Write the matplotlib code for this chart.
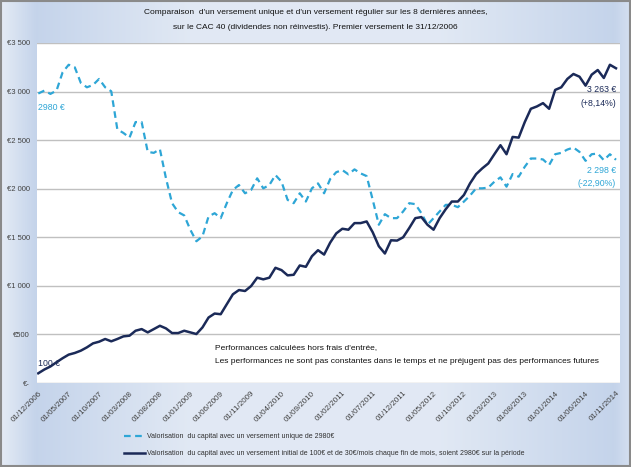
import matplotlib
matplotlib.use("Agg")
import matplotlib.pyplot as plt
import numpy as np

# DATA (monthly, 01/12/2006 -> 01/11/2014)
unique_payment = [
    2980, 3010, 2976, 3010, 3198, 3276, 3250, 3089, 3044, 3068,
    3130, 3044, 3003, 2611, 2574, 2526, 2686, 2686, 2379, 2369,
    2407, 2107, 1851, 1759, 1725, 1578, 1459, 1510, 1714, 1748,
    1697, 1851, 1987, 2038, 1953, 1987, 2107, 2004, 2038, 2141,
    2072, 1885, 1851, 1953, 1868, 2004, 2055, 1953, 2100, 2170,
    2192, 2148, 2199, 2158, 2130, 1885, 1629, 1738, 1697, 1697,
    1766, 1851, 1841, 1748, 1629, 1697, 1766, 1834, 1834, 1810,
    1868, 1930, 2004, 2004, 2011, 2072, 2117, 2021, 2151, 2124,
    2226, 2311, 2311, 2301, 2243, 2355, 2369, 2403, 2424, 2379,
    2287, 2355, 2362, 2294, 2355, 2298,
]
monthly_payment = [
    100, 139, 170, 214, 255, 292, 309, 333, 367, 408,
    425, 453, 429, 453, 480, 487, 538, 555, 521, 555,
    589, 562, 514, 514, 538, 521, 504, 572, 674, 715,
    708, 811, 913, 957, 947, 998, 1084, 1067, 1084, 1186,
    1162, 1108, 1114, 1210, 1196, 1305, 1367, 1322, 1445, 1540,
    1588, 1578, 1646, 1646, 1663, 1551, 1408, 1333, 1469, 1466,
    1500, 1595, 1697, 1708, 1629, 1578, 1697, 1789, 1868, 1868,
    1936, 2055, 2150, 2209, 2260, 2355, 2448, 2355, 2533, 2526,
    2686, 2823, 2847, 2881, 2823, 3017, 3044, 3130, 3181, 3153,
    3061, 3174, 3222, 3140, 3276, 3240,
]
tick_labels = [
    "01/12/2006", "01/05/2007", "01/10/2007", "01/03/2008", "01/08/2008",
    "01/01/2009", "01/06/2009", "01/11/2009", "01/04/2010", "01/09/2010",
    "01/02/2011", "01/07/2011", "01/12/2011", "01/05/2012", "01/10/2012",
    "01/03/2013", "01/08/2013", "01/01/2014", "01/06/2014", "01/11/2014",
]
y_ticks = [0, 500, 1000, 1500, 2000, 2500, 3000, 3500]
y_labels = ["€-", "€500", "€1 000", "€1 500", "€2 000", "€2 500", "€3 000", "€3 500"]

label_unique = "Valorisation  du capital avec un versement unique de 2980€"
label_monthly = ("Valorisation  du capital avec un versement initial de 100€ et de 30€/mois "
                 "chaque fin de mois, soient 2980€ sur la période")

CYAN = "#2ea6d6"
NAVY = "#1b2a58"
plt.rcParams["font.family"] = ["Liberation Sans", "DejaVu Sans"]

fig = plt.figure(figsize=(6.31, 4.67), dpi=100)

# background gradient
bg = fig.add_axes([0, 0, 1, 1], zorder=-10)
xs = np.linspace(0, 1, 300)
h = np.interp(xs, [0, 0.055, 0.3, 0.7, 0.975, 1], [0.15, 1.0, 0.25, 0.25, 1.0, 0.6])
grad = np.tile(h, (50, 1))
light = np.array([0.92, 0.94, 0.97])
blue = np.array([0.77, 0.83, 0.92])
img = light[None, None, :] * (1 - grad[..., None]) + blue[None, None, :] * grad[..., None]
bg.imshow(img, aspect="auto", extent=[0, 1, 0, 1])
bg.set_axis_off()
fig.patches.append(plt.Rectangle((0.001, 0.002), 0.997, 0.995, transform=fig.transFigure,
                                 fill=False, edgecolor="#8a8a8a", lw=1.5))

ax = fig.add_axes([37 / 631, 1 - 383 / 467, (620 - 37) / 631, (383 - 43) / 467])
ax.set_facecolor("white")
x = np.arange(len(unique_payment))
ax.plot(x, unique_payment, color=CYAN, lw=1.6, ls=(0, (3, 2)), label=label_unique)
ax.plot(x, monthly_payment, color=NAVY, lw=1.8, label=label_monthly)

ax.set_xlim(-0.21, 95.66)
ax.set_ylim(0, 3500)
ax.set_yticks(y_ticks)
ax.set_yticklabels(y_labels, fontsize=5.5, color="#404040")
ax.set_xticks(np.arange(0, 96, 5))
ax.set_xticklabels(tick_labels, rotation=45, ha="right", rotation_mode="anchor",
                   fontsize=5.8, color="#404040")
ax.tick_params(axis="y", length=0, pad=5)
ax.tick_params(axis="x", length=0, pad=5)
ax.grid(axis="y", color="#c0c0c0", lw=1)
ax.set_axisbelow(True)
for s in ax.spines.values():
    s.set_visible(False)

# data labels
ax.text(0, 2835, "2980 €", color=CYAN, fontsize=6.3, ha="left", va="center")
ax.text(-0.1, 205, "100 €", color=NAVY, fontsize=6.3, ha="left", va="center")
ax.text(95.0, 3020, "3 263 €", color=NAVY, fontsize=6.3, ha="right", va="center")
ax.text(95.0, 2876, "(+8,14%)", color=NAVY, fontsize=6.3, ha="right", va="center")
ax.text(95.0, 2188, "2 298 €", color=CYAN, fontsize=6.3, ha="right", va="center")
ax.text(95.0, 2054, "(-22,90%)", color=CYAN, fontsize=6.3, ha="right", va="center")

ax.text(29, 290, "Performances calculées hors frais d'entrée,\n"
        "Les performances ne sont pas constantes dans le temps et ne préjugent pas des performances futures",
        fontsize=6.05, color="#111111", ha="left", va="center", linespacing=2.4)

fig.text(0.5, 0.957, "Comparaison  d'un versement unique et d'un versement régulier sur les 8 dernières années,\n"
         "sur le CAC 40 (dividendes non réinvestis). Premier versement le 31/12/2006",
         fontsize=6.0, color="#111111", ha="center", va="center", linespacing=2.5)

fig.legend(loc="upper left", bbox_to_anchor=(118 / 631, 1 - 427 / 467), frameon=False,
           fontsize=5, handlelength=3.0, labelspacing=1.4, handletextpad=0.3,
           labelcolor="#303030")

fig.savefig("out.png", dpi=100)
